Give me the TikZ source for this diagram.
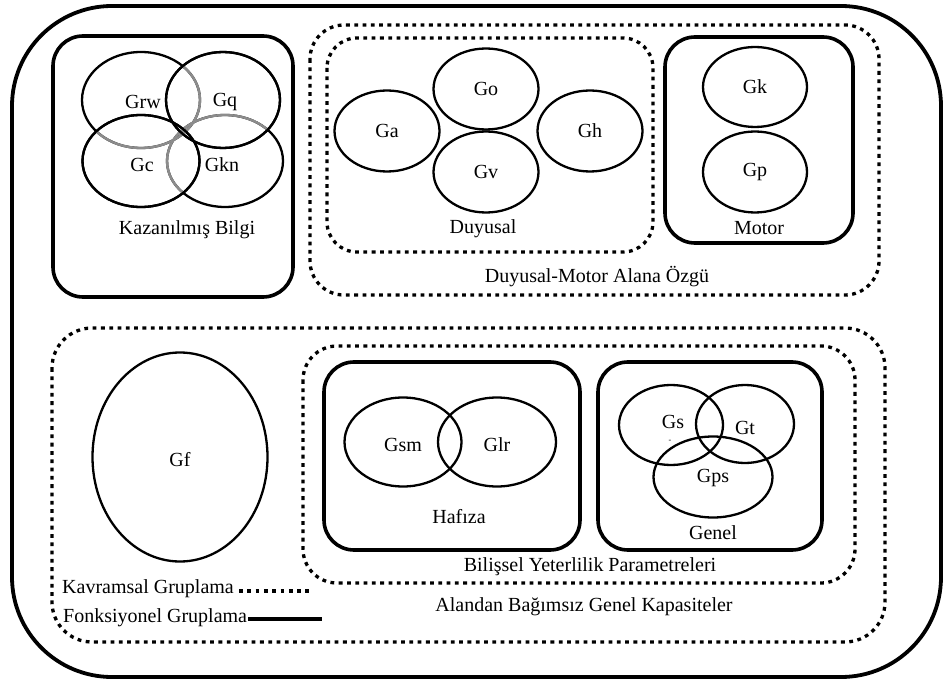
\documentclass[tikz,border=0pt]{standalone}
\usepackage{fontspec}
\setmainfont{Liberation Serif}
\usetikzlibrary{shapes.geometric}
\begin{document}
\begin{tikzpicture}[x=1pt,y=-1pt,
  every node/.style={font=\fontsize{20}{24}\selectfont, inner sep=0pt},
  funcbox/.style={draw, line width=3.6pt, rounded corners=30pt},
  conbox/.style={draw, line width=3.3pt, dash pattern=on 3.8pt off 4.5pt, rounded corners=34pt},
  outerbox/.style={draw, line width=3.8pt, rounded corners=100pt},
  ell/.style={draw, ellipse, line width=2.3pt, inner sep=0pt},
  greyarc/.style={draw=black!45, line width=2.4pt}
]
\useasboundingbox (0,0) rectangle (944,684);

% outer frame
\draw[outerbox] (12,6) rectangle (941,677);

% ---------- Kazanilmis Bilgi ----------
\draw[funcbox] (53,36) rectangle (293,297);
\node[ell, minimum width=118pt, minimum height=96pt] (grw) at (141,100) {};
\node[ell, minimum width=114pt, minimum height=96pt] (gq)  at (223,100) {};
\node[ell, minimum width=117pt, minimum height=92pt] (gc)  at (141,161) {};
\node[ell, minimum width=116pt, minimum height=92pt] (gkn) at (225,161) {};
% parts of Grw and Gkn that lie inside Gq or Gc are drawn grey
\begin{scope}
  \clip (223,100) ellipse [x radius=57, y radius=48];
  \draw[greyarc] (141,100) ellipse [x radius=59, y radius=48];
  \draw[greyarc] (225,161) ellipse [x radius=58, y radius=46];
\end{scope}
\begin{scope}
  \clip (141,161) ellipse [x radius=58.5, y radius=46];
  \draw[greyarc] (141,100) ellipse [x radius=59, y radius=48];
  \draw[greyarc] (225,161) ellipse [x radius=58, y radius=46];
\end{scope}
\draw[line width=2.3pt] (223,100) ellipse [x radius=57, y radius=48];
\draw[line width=2.3pt] (141,161) ellipse [x radius=58.5, y radius=46];
\node (tgrw) at (143,102) {Grw};
\node (tgq)  at (225,102) {Gq};
\node (tgc)  at (142,165) {Gc};
\node (tgkn) at (222,165) {Gkn};
\node (kb) at (187,230) {Kazanılmış Bilgi};

% ---------- Duyusal-Motor ----------
\draw[conbox] (310,25) rectangle (879,295);
\draw[conbox, rounded corners=30pt] (327,38) rectangle (653,252);
\node[ell, minimum width=105pt, minimum height=81pt] (go) at (486,89)  {Go};
\node[ell, minimum width=105pt, minimum height=81pt] (gv) at (486,172) {Gv};
\node[ell, minimum width=105pt, minimum height=81pt] (ga) at (387,131) {Ga};
\node[ell, minimum width=105pt, minimum height=81pt] (gh) at (590,131) {Gh};
\node (duy) at (483,229) {Duyusal};

\draw[funcbox] (665,37) rectangle (853,243);
\node[ell, minimum width=104pt, minimum height=80pt] (gk) at (755,87)  {Gk};
\node[ell, minimum width=104pt, minimum height=81pt] (gp) at (755,172) {Gp};
\node (mot) at (759,228) {Motor};
\node (dm) at (597,277) {Duyusal-Motor Alana Özgü};

% ---------- Alandan Bagimsiz Genel Kapasiteler ----------
\draw[conbox, rounded corners=40pt] (52,328) rectangle (885,642);
\node[ell, minimum width=175pt, minimum height=209pt] (gf) at (180,457) {};
\node (tgf) at (180,460) {Gf};

\draw[conbox] (303,346) rectangle (855,583);
\draw[funcbox] (324,362) rectangle (580,550);
\node[ell, minimum width=117pt, minimum height=89pt] (gsm) at (403,442) {};
\node[ell, minimum width=118pt, minimum height=89pt] (glr) at (497,442) {};
\node (tgsm) at (403,445) {Gsm};
\node (tglr) at (497,445) {Glr};
\node (haf) at (459,517) {Hafıza};

\draw[funcbox] (598,362) rectangle (822,550);
\node[ell, minimum width=104pt, minimum height=80pt] (gs)  at (671,425) {};
\node[ell, minimum width=98pt,  minimum height=78pt] (gt)  at (745,424) {};
\node[ell, minimum width=119pt, minimum height=81pt] (gps) at (713,477) {};
\node (tgs)  at (673,422) {Gs};
\node[font=\fontsize{8}{8}\selectfont] (tgsd) at (670,441) {-};
\node (tgt)  at (745,428) {Gt};
\node (tgps) at (713,478) {Gps};
\node (gen) at (713,533) {Genel};

\node (bil) at (590,567) {Bilişsel Yeterlilik Parametreleri};
\node (abg) at (584,607) {Alandan Bağımsız Genel Kapasiteler};

% ---------- legend ----------
\node[anchor=base west] (kav) at (62,593) {Kavramsal Gruplama};
\node[anchor=base west] (fon) at (63,622) {Fonksiyonel Gruplama};
\coordinate (kavend) at (309,591);
\coordinate (fonend) at (322,619);
\draw[line width=3.3pt, dash pattern=on 3.8pt off 4.5pt] ([xshift=5pt]kav.base east) ++(0,-2) -- (kavend);
\draw[line width=3.8pt] (fon.base east) ++(1,-3) -- (fonend);
\end{tikzpicture}
\end{document}
